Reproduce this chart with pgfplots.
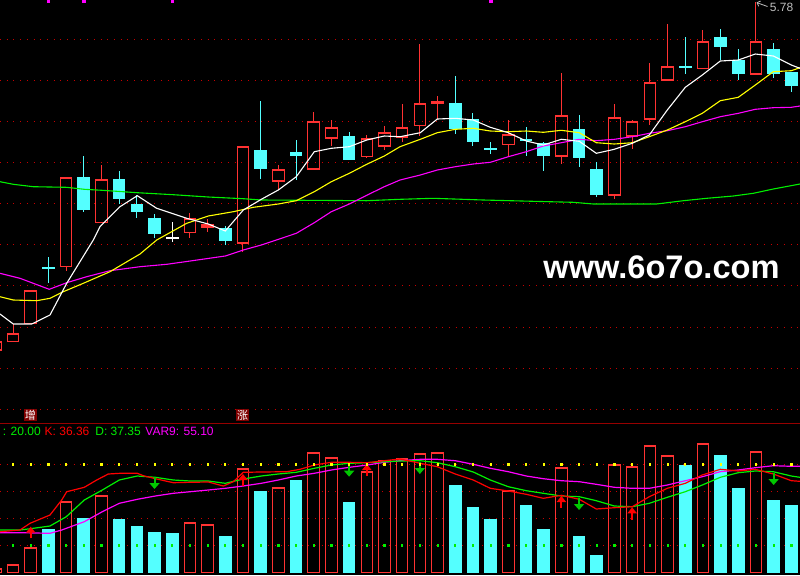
\documentclass[border=0pt]{standalone}
\usepackage{fontspec}
\setmainfont{Liberation Sans}
\newfontfamily\cjk{Noto Sans CJK SC}
\usepackage{pgfplots}
\pgfplotsset{compat=1.18}
\usepackage{pgfplotstable}
\usetikzlibrary{arrows.meta}

\definecolor{kred}{RGB}{255,50,50}
\definecolor{kcyan}{RGB}{84,255,255}
\definecolor{gridred}{RGB}{200,0,0}
\definecolor{sepred}{RGB}{150,0,0}
\definecolor{mayel}{RGB}{255,255,0}
\definecolor{mamag}{RGB}{255,0,255}
\definecolor{magrn}{RGB}{0,240,0}
\definecolor{labred}{RGB}{128,0,0}
\definecolor{argrn}{RGB}{0,200,0}
\definecolor{lblgray}{RGB}{190,190,190}

% all values are screen rows (py, 0 = top), candles are numbered i = 0..44
% candle centre in px: 13 + 17.69*i

% rising candles (hollow red): open(bottom) close(top) high low
\pgfplotstableread{
i   o     c     h     l
-1  350.3 341   341   350.3
0   341.7 333.3 324.3 341.7
1   323.7 290   290   323.7
3   266.7 177.3 177.3 270.7
5   222.7 179.3 165   222.7
10  232.7 218.3 213   237.7
11  227   224.3 219   231.7
13  243.3 146.3 146.3 252.3
15  181.3 169.3 165   190
17  169.3 121.3 112   169.3
18  138.3 127   120   146
20  156.7 138.3 135   157.7
21  146.3 132.3 126   149.7
22  137   127   104   142
23  125.7 103.3 44    135.7
24  103.7 101.3 96.3  118.7
28  144.7 134.3 120   156.7
31  156.3 115.3 73    163.7
34  195.3 117.3 104   199
35  136.3 121.3 120   149.3
36  119.3 82.3  63    124.7
37  80.3  66.3  24    80.3
39  68.7  41.3  30    68.7
42  74.3  41.3  1.7   74.3
}\upcandles

% falling candles (filled cyan): open(top) close(bottom) high low
\pgfplotstableread{
i   o     c     h     l
2   266.7 269.3 257.3 283.3
4   177   210   156   212
6   179   198.7 171   203.7
7   204   212   195.3 217.7
8   218   234   214   237.7
12  228   240.7 225.7 244.7
14  150   168.7 101   178.7
16  152   155.7 140   180.3
19  136   159.7 132   159.7
25  103   129   76    133.7
26  119   142   113   145.7
27  147.7 149.7 142   153.7
29  139.3 141.3 127   155.7
30  142.7 155.7 141.7 170.7
32  129   157.7 115   166.7
33  169   195   162.3 196.7
38  66    67.7  37    73.7
40  37    46.7  29    60
41  59.7  73.7  49    80
43  49    73.7  43    77.7
44  72    85.7  72    91.7
}\downcandles

\pgfplotstableread{
i  o   c   h   l
9  237 239 222 242.3
}\flatcandles

% lower panel bars: top row of each bar (bars stand on row 572.7)
\pgfplotstableread{
i   top
-1  568.3
0   564.3
1   547.3
3   501.3
5   495.3
10  522.3
11  524.3
13  468.3
15  487.3
17  452.3
18  457.3
20  471
21  460.3
22  458.3
23  453.3
24  452.3
28  490
31  467.3
34  464.3
35  466.3
36  445.3
37  455.3
39  443.3
42  451.3
}\redbars

\pgfplotstableread{
i   top
2   529
4   518
6   519
7   526
8   532
9   533
12  536
14  491
16  480
19  502
25  485
26  507
27  519
29  505
30  529
32  536
33  555
38  465
40  455
41  488
43  500
44  505
}\cyanbars

\pgfplotsset{
  seg/.style 2 args={draw=none, mark=none, forget plot,
    error bars/.cd, y dir=both, y explicit, error mark=none,
    error bar style={draw=#1, line width=#2, line cap=butt}},
}

\begin{document}
\begin{tikzpicture}
\begin{axis}[name=main,
  width=400pt, height=287.5pt, scale only axis,
  xmin=0, xmax=800, ymin=0, ymax=575, y dir=reverse,
  axis background/.style={fill=black},
  axis line style={draw=none}, tick style={draw=none},
  xtick=\empty, ytick=\empty,
  unbounded coords=jump,
]

% ---------- grid rows and panel divider ----------
\addplot[gridred, line width=0.5pt, dash pattern=on 0.5pt off 2.85pt, forget plot] table[x=px, y=py] {
px py
0 39.3
800 39.3
nan nan
0 80.4
800 80.4
nan nan
0 121.5
800 121.5
nan nan
0 162.6
800 162.6
nan nan
0 203.7
800 203.7
nan nan
0 244.8
800 244.8
nan nan
0 285.9
800 285.9
nan nan
0 327
800 327
nan nan
0 368.1
800 368.1
nan nan
0 409.2
800 409.2
nan nan
0 464.3
800 464.3
nan nan
0 491.3
800 491.3
nan nan
0 518.3
800 518.3
nan nan
0 545.3
800 545.3
};
\addplot[sepred, line width=0.6pt, forget plot] coordinates {(0,423.3) (800,423.3)};

% ---------- upper panel: candles ----------
% rising: upper wick, lower wick, outline
\addplot[seg={kred}{0.5pt}] table[x expr={13+17.69*\thisrow{i}}, y expr={(\thisrow{h}+\thisrow{c})/2}, y error expr={(\thisrow{c}-\thisrow{h})/2}] {\upcandles};
\addplot[seg={kred}{0.5pt}] table[x expr={13+17.69*\thisrow{i}}, y expr={(\thisrow{o}+\thisrow{l})/2}, y error expr={(\thisrow{l}-\thisrow{o})/2}] {\upcandles};
\addplot[seg={kred}{0.5pt}] table[x expr={13+17.69*\thisrow{i}-5.8}, y expr={(\thisrow{o}+\thisrow{c})/2}, y error expr={(\thisrow{o}-\thisrow{c})/2}] {\upcandles};
\addplot[seg={kred}{0.5pt}] table[x expr={13+17.69*\thisrow{i}+5.8}, y expr={(\thisrow{o}+\thisrow{c})/2}, y error expr={(\thisrow{o}-\thisrow{c})/2}] {\upcandles};
\addplot[seg={kred}{6.3pt}] table[x expr={13+17.69*\thisrow{i}}, y expr={\thisrow{c}+0.5}, y error expr=0.5] {\upcandles};
\addplot[seg={kred}{6.3pt}] table[x expr={13+17.69*\thisrow{i}}, y expr={\thisrow{o}-0.5}, y error expr=0.5] {\upcandles};
% falling
\addplot[seg={kcyan}{0.5pt}] table[x expr={13+17.69*\thisrow{i}}, y expr={(\thisrow{h}+\thisrow{l})/2}, y error expr={(\thisrow{l}-\thisrow{h})/2}] {\downcandles};
\addplot[seg={kcyan}{6.3pt}] table[x expr={13+17.69*\thisrow{i}}, y expr={(\thisrow{o}+\thisrow{c})/2}, y error expr={(\thisrow{c}-\thisrow{o})/2}] {\downcandles};
% unchanged
\addplot[seg={white}{0.5pt}] table[x expr={13+17.69*\thisrow{i}}, y expr={(\thisrow{h}+\thisrow{l})/2}, y error expr={(\thisrow{l}-\thisrow{h})/2}] {\flatcandles};
\addplot[seg={white}{6.3pt}] table[x expr={13+17.69*\thisrow{i}}, y expr={(\thisrow{o}+\thisrow{c})/2}, y error expr={(\thisrow{c}-\thisrow{o})/2}] {\flatcandles};

% ---------- upper panel: moving averages ----------
\addplot[magrn, line width=0.55pt] table[x=px, y=py] {
px py
0 181.7
13.3 184.3
33.3 186.7
66.3 187.3
84.3 189.3
102.3 190.3
137.3 192.7
173.3 194.7
208.3 197
243.3 198.7
261.3 200
366.7 200.7
400 199.3
433.3 198.3
483.3 200
533.3 201.3
573.3 202.3
593.3 204
656.7 204
683.3 200.7
706.7 198.3
733.3 196
753.3 193.3
773.3 189
800 184
};
\addplot[mamag, line width=0.55pt] table[x=px, y=py] {
px py
0 273.3
20 278.3
33.3 283.3
49.3 289.3
66.7 282.7
86.7 276.7
110 270.7
140 266.7
166.7 264.3
190.3 261
225.3 256
243.3 250
261.3 245
296.3 233.3
314.3 222.7
331.3 211.7
349.3 204
367.3 195
384.3 186.7
400 180
420.3 175
437.3 170
455.3 166.7
473.3 164
490.3 162.3
508.3 156.7
526.3 151.7
543.3 146
561.3 142.7
579.3 139.3
596.3 140.7
614.3 139.3
632.3 136.7
649.3 133.3
667.3 130.7
685.3 126.7
702.3 121.7
720.3 116.7
738.3 113.3
755.3 109.3
773.3 107.7
791.3 107.3
800 106
};
\addplot[mayel, line width=0.55pt] table[x=px, y=py] {
px py
0 296.7
13.3 300
36.7 300.7
50 298.3
63.3 291.7
83.3 283.3
110 271.7
140 254
156.7 240
186.7 223.3
208.3 216
233.3 211.7
253.3 207.3
278.3 204
296.3 200.7
314.3 191.7
331.3 181.7
349.3 173.3
366.7 164.3
384.3 156
400 146.7
420.3 139.3
437.3 132.7
455.3 129.3
473.3 128.3
490.3 131
508.3 131.7
526.3 131
543.3 132.3
561.3 130.3
579.3 132.7
596.3 142.7
614.3 144
632.3 142.7
649.3 136.7
667.3 130
685.3 121.7
702.3 113.3
720.3 100.7
738.3 97.3
755.3 85
773.3 71.7
791.3 70.7
800 67.7
};
\addplot[white, line width=0.55pt] table[x=px, y=py] {
px py
0 314
13.3 324
31.7 324
50 315
66.7 283.3
93.3 240
100 226.7
120 206.7
137.3 195.7
156.7 208.3
186.7 218.3
208.3 224
225.3 231
243.3 210
261.3 199.3
278.3 190
296.3 176.7
314.3 151.7
331.3 148.3
349.3 146.7
366.7 140
384.3 136
400 136.7
420.3 132.7
437.3 119
455.3 118.3
473.3 120
490.3 127.3
508.3 132.7
526.3 141
543.3 145
561.3 139.3
579.3 141.3
596.3 153.3
614.3 149.3
632.3 143.3
649.3 135
667.3 110
685.3 87.3
702.3 75
720.3 61
738.3 60
755.3 54
773.3 56
791.3 65
800 68.3
};

% signal marks on the top edge
\addplot[only marks, mark=square*, mark size=0.65pt, mamag] table[x expr={13+17.69*\thisrow{i}}, y=py] {
i py
2 0.8
4 0.8
9 0.8
27 0.8
};

% ---------- lower panel: bars ----------
\addplot[seg={kcyan}{6.3pt}] table[x expr={13+17.69*\thisrow{i}}, y expr={(\thisrow{top}+572.7)/2}, y error expr={(572.7-\thisrow{top})/2}] {\cyanbars};
\addplot[seg={kred}{0.5pt}] table[x expr={13+17.69*\thisrow{i}-5.8}, y expr={(\thisrow{top}+572.7)/2}, y error expr={(572.7-\thisrow{top})/2}] {\redbars};
\addplot[seg={kred}{0.5pt}] table[x expr={13+17.69*\thisrow{i}+5.8}, y expr={(\thisrow{top}+572.7)/2}, y error expr={(572.7-\thisrow{top})/2}] {\redbars};
\addplot[seg={kred}{6.3pt}] table[x expr={13+17.69*\thisrow{i}}, y expr={\thisrow{top}+0.5}, y error expr=0.5] {\redbars};
\addplot[seg={kred}{6.3pt}] table[x expr={13+17.69*\thisrow{i}}, y expr=572.2, y error expr=0.5] {\redbars};

% level dots at every bar
\addplot[only marks, mark=square*, mark size=0.3pt, mayel, forget plot] table[x expr={13+17.69*\thisrow{i}}, y expr=464.3] {\redbars};
\addplot[only marks, mark=square*, mark size=0.3pt, mayel, forget plot] table[x expr={13+17.69*\thisrow{i}}, y expr=464.3] {\cyanbars};
\addplot[only marks, mark=square*, mark size=0.3pt, magrn, forget plot] table[x expr={13+17.69*\thisrow{i}}, y expr=545.3] {\redbars};
\addplot[only marks, mark=square*, mark size=0.3pt, magrn, forget plot] table[x expr={13+17.69*\thisrow{i}}, y expr=545.3] {\cyanbars};

% ---------- lower panel: K, D, VAR9 ----------
\addplot[mamag, line width=0.6pt] table[x=px, y=py] {
px py
0 532.7
20 532.7
50 533.3
61.7 530
84.3 521.7
102.3 511.7
119.3 503.3
137.3 499.3
155.3 496
173.3 493.3
190.3 491.7
208.3 490
225.3 488.3
243.3 486
261.3 483.3
278.3 480
296.3 476
314.3 473.3
331.3 470
349.3 467.3
367.3 465
384.3 462.3
400 460.7
420.3 459.3
437.3 459.3
455.3 460.7
473.3 464.3
490.3 468.3
508.3 471.7
526.3 476
543.3 478.7
561.3 480.7
579.3 481.7
596.3 484.3
614.3 487.3
632.3 488.3
649.3 488.3
667.3 485
685.3 480.7
702.3 476.7
720.3 471.7
738.3 470
755.3 467.7
773.3 465.7
791.3 466.3
800 466.3
};
\addplot[magrn, line width=0.6pt] table[x=px, y=py] {
px py
0 530
20 530
33.3 528.3
50 526
66.3 516.7
84.3 500
102.3 490
119.3 480
137.3 476
155.3 477.3
173.3 480
190.3 481
208.3 481
225.3 483.3
243.3 479
261.3 476
278.3 474
296.3 472.3
314.3 468.3
331.3 465
349.3 463.3
367.3 462.7
384.3 461.7
400 461
420.3 460.7
437.3 462.7
455.3 466.7
473.3 472
490.3 480
508.3 486.7
526.3 490.7
543.3 493.3
561.3 496
579.3 496.7
596.3 500.7
614.3 506
632.3 506.7
649.3 503.3
667.3 497.3
685.3 491.7
702.3 485
720.3 477.3
738.3 472.7
755.3 471
773.3 471.7
791.3 476
800 477.3
};
\addplot[red, line width=0.6pt] table[x=px, y=py] {
px py
0 531.7
20 530
30 523.3
50 515
61.7 500
66.7 491.7
84.3 487.3
96.7 480
108.3 474
120 473.3
137.3 473.3
143.3 475.7
156.7 479
173.3 482.7
190.3 482.3
208.3 482
223.3 486
233.3 481.7
243.3 472.3
261.3 472
286.7 471.7
300 469.3
314.3 465
331.3 462.3
349.3 462.3
367.3 462.7
384.3 460.7
400 459
420.3 463.3
437.3 466.7
455.3 474
473.3 480
490.3 488.3
508.3 491
526.3 494.3
543.3 498.3
561.3 495.3
579.3 499.3
596.3 509
614.3 507.7
632.3 506.7
649.3 496.7
667.3 488.3
685.3 483.3
702.3 475
720.3 469.3
738.3 471
755.3 469.3
773.3 474
791.3 480.7
800 481.3
};

% buy / sell arrows
\addplot[red, line width=1pt, -{Triangle[width=4.6pt,length=3pt]}, quiver={u=0, v=\thisrow{v}}]
  table[x expr={13+17.69*\thisrow{i}}, y=py] {
i  py    v
1  538.3 -11.6
13 486   -12
20 476   -12
31 507.7 -11.7
35 520   -12.7
};
\addplot[argrn, line width=1pt, -{Triangle[width=5pt,length=3pt]}, quiver={u=0, v=\thisrow{v}}]
  table[x expr={13+17.69*\thisrow{i}}, y=py] {
i  py    v
8  477.3 11.7
19 464   12.7
23 462   12
32 497.7 12.3
43 473.3 11.7
};

% ---------- texts ----------
\node[anchor=base, inner sep=0pt, text=white, font=\fontsize{16.3}{16}\selectfont\bfseries]
  at (axis cs:661.5,278.3) {www.6o7o.com};
\node[anchor=west, inner sep=0pt, text=lblgray, font=\fontsize{6}{7}\selectfont]
  at (axis cs:769.5,7.5) {5.78};
\draw[lblgray, line width=0.4pt, -{Straight Barb[length=1.4pt,width=2.8pt]}]
  (axis cs:767.5,6.5) -- (axis cs:756.5,2.5);
\node[fill=labred, text=white, inner sep=0pt, minimum width=6.4pt, minimum height=5.9pt,
  font=\cjk\fontsize{5.5}{5.5}\selectfont] at (axis cs:30.3,415.2) {增};
\node[fill=labred, text=white, inner sep=0pt, minimum width=6.4pt, minimum height=5.9pt,
  font=\cjk\fontsize{5.5}{5.5}\selectfont] at (axis cs:242.7,415.2) {涨};
\node[anchor=west, inner sep=0pt, text=magrn, font=\fontsize{6}{7}\selectfont]
  at (axis cs:2.5,431.5) {: 20.00};
\node[anchor=west, inner sep=0pt, text=red, font=\fontsize{6}{7}\selectfont]
  at (axis cs:44.3,431.5) {K: 36.36};
\node[anchor=west, inner sep=0pt, text=magrn, font=\fontsize{6}{7}\selectfont]
  at (axis cs:95,431.5) {D: 37.35};
\node[anchor=west, inner sep=0pt, text=mamag, font=\fontsize{6}{7}\selectfont]
  at (axis cs:145,431.5) {VAR9: 55.10};
\end{axis}
\pgfresetboundingbox
\path (main.south west) rectangle (main.north east);
\end{tikzpicture}
\end{document}
